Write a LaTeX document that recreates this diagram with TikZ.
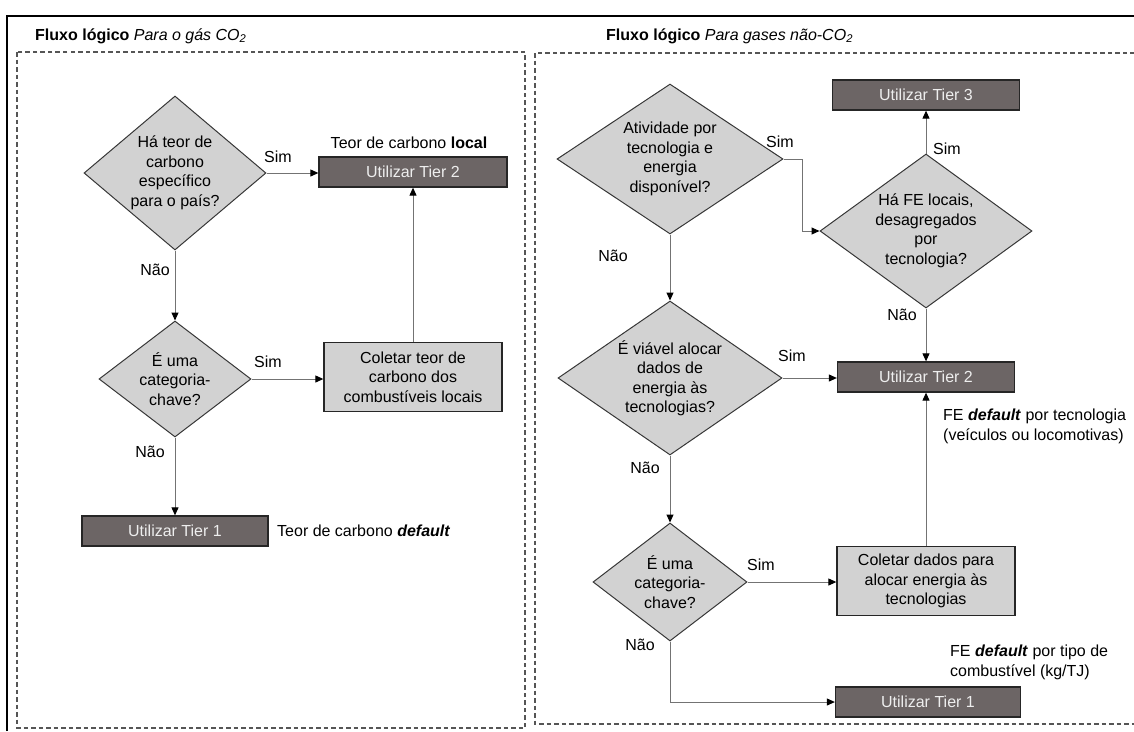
\documentclass[tikz,border=0pt]{standalone}
\usepackage{fontspec}
\setmainfont{Liberation Sans}
\usepackage{xcolor}
\usepackage{tikz}
\usetikzlibrary{shapes.geometric}
\usetikzlibrary{arrows.meta}

\definecolor{tierfill}{RGB}{108,101,101}
\definecolor{tiertext}{RGB}{238,238,238}
\definecolor{qfill}{RGB}{210,210,210}
\definecolor{qdraw}{RGB}{55,55,55}
\definecolor{flowline}{RGB}{115,115,115}
\definecolor{panel}{RGB}{85,85,85}

\tikzset{
  decision/.style={diamond, draw=qdraw, fill=qfill, line width=1pt, inner sep=0pt},
  qtext/.style={align=center, inner sep=0pt},
  tier/.style={rectangle, draw=black!85, fill=tierfill, text=tiertext, line width=1.3pt, minimum height=30pt, inner sep=0pt},
  collect/.style={rectangle, draw=black!85, fill=qfill, line width=1.3pt, minimum width=178pt, minimum height=69pt, align=center, inner sep=0pt},
  ans/.style={inner sep=0pt},
  flow/.style={draw=flowline, line width=1pt, ->},
  panelbox/.style={draw=panel, line width=1.2pt, dash pattern=on 4.5pt off 3pt},
  >={Triangle[length=8pt,width=7pt,color=black]}
}

\begin{document}
\begin{tikzpicture}[x=1pt, y=-1pt, font=\fontsize{16}{19.5}\selectfont]
    \useasboundingbox (0,0) rectangle (1134,731);
    \clip (0,0) rectangle (1134,731);
    % frame and panels
    \draw[line width=2pt] (7,731) -- (7,16) -- (1134,16);
    \draw[panelbox] (17,52) rectangle (525,728);
    \draw[panelbox] (535,53) rectangle (1150,724);
    \node[ans, anchor=base west] (title1) at (35,40) {\textbf{Fluxo lógico} \textit{Para o gás CO\textsubscript{2}}};
    \node[ans, anchor=base west] (title2) at (606,40) {\textbf{Fluxo lógico} \textit{Para gases não-CO\textsubscript{2}}};

    % CO2
    \node[decision, minimum width=182pt, minimum height=154pt] (d1) at (175,173) {};
    \node[qtext] (d1txt) at (d1) {Há teor de\\carbono\\específico\\para o país?};
    \node[tier, minimum width=188pt] (t2a) at (413,172) {Utilizar Tier 2};
    \node[ans] (t2anote) at (409,143) {Teor de carbono \textbf{local}};
    \node[decision, minimum width=152pt, minimum height=116pt] (d2) at (175,379) {};
    \node[qtext] (d2txt) at (d2) {É uma\\categoria-\\chave?};
    \node[collect] (c1) at (413,377) {Coletar teor de\\carbono dos\\combustíveis locais};
    \node[tier, minimum width=186pt] (t1a) at (175,531) {Utilizar Tier 1};
    \node[ans, anchor=west] (t1anote) at (277,531) {Teor de carbono \textbf{\textit{default}}};
    \node[ans] (sim1) at (278,157) {Sim};
    \node[ans] (nao1) at (155,270) {Não};
    \node[ans] (sim2) at (268,362) {Sim};
    \node[ans] (nao2) at (150,452) {Não};
    \draw[flow] (d1.east) -- (d1.east -| t2a.west);
    \draw[flow] (d1.south) -- (d2.north);
    \draw[flow] (d2.east) -- (d2.east -| c1.west);
    \draw[flow] (c1.north) -- (t2a.south);
    \draw[flow] (d2.south) -- (t1a.north);

    % nao-CO2
    \node[decision, minimum width=226pt, minimum height=150pt] (d3) at (670,159) {};
    \node[qtext] (d3txt) at (d3) {Atividade por\\tecnologia e\\energia\\disponível?};
    \node[decision, minimum width=212pt, minimum height=154pt] (d4) at (926,231) {};
    \node[qtext] (d4txt) at (d4) {Há FE locais,\\desagregados\\por\\tecnologia?};
    \node[tier, minimum width=187pt] (t3) at (926,95) {Utilizar Tier 3};
    \node[decision, minimum width=224pt, minimum height=154pt] (d5) at (670,378) {};
    \node[qtext] (d5txt) at (d5) {É viável alocar\\dados de\\energia às\\tecnologias?};
    \node[tier, minimum width=177pt] (t2b) at (926,377) {Utilizar Tier 2};
    \node[ans, anchor=north west, align=left] (t2bnote) at (943,409) {FE \textbf{\textit{default}} por tecnologia\\(veículos ou locomotivas)};
    \node[decision, minimum width=154pt, minimum height=118pt] (d6) at (670,582) {};
    \node[qtext] (d6txt) at (d6) {É uma\\categoria-\\chave?};
    \node[collect] (c2) at (926,581) {Coletar dados para\\alocar energia às\\tecnologias};
    \node[tier, minimum width=185pt] (t1b) at (928,702) {Utilizar Tier 1};
    \node[ans, anchor=north west, align=left] (t1bnote) at (950,645) {FE \textbf{\textit{default}} por tipo de\\combustível (kg/TJ)};
    \node[ans] (sim3) at (780,142) {Sim};
    \node[ans] (sim4) at (947,149) {Sim};
    \node[ans] (nao3) at (613,256) {Não};
    \node[ans] (nao4) at (902,315) {Não};
    \node[ans] (sim5) at (792,356) {Sim};
    \node[ans] (nao5) at (645,468) {Não};
    \node[ans] (sim6) at (761,565) {Sim};
    \node[ans] (nao6) at (640,645) {Não};
    \draw[flow] (d3.east) -- ++(19,0) |- (d4.west);
    \draw[flow] (d4.north) -- (t3.south);
    \draw[flow] (d3.south) -- (d5.north);
    \draw[flow] (d4.south) -- (t2b.north);
    \draw[flow] (d5.east) -- (d5.east -| t2b.west);
    \draw[flow] (d5.south) -- (d6.north);
    \draw[flow] (d6.east) -- (d6.east -| c2.west);
    \draw[flow] (c2.north) -- (t2b.south);
    \draw[flow] (d6.south) |- (t1b.west);
\end{tikzpicture}
\end{document}
